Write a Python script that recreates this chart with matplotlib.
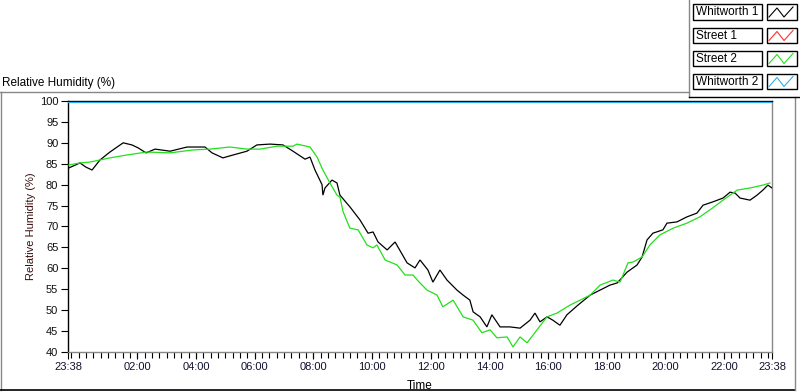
import matplotlib
matplotlib.use("Agg")
import matplotlib.pyplot as plt
from matplotlib.patches import Rectangle
from matplotlib.lines import Line2D

plt.rcParams['font.family'] = ['Liberation Sans', 'DejaVu Sans']

# ---- data (elapsed hours since 23:38, relative humidity %) ----
w1_hours = [0.03, 0.41, 0.61, 0.82, 1.09, 1.43, 1.88, 2.18, 2.39, 2.66, 2.97, 3.48, 4.06, 4.67,
            4.91, 5.28, 5.63, 6.10, 6.44, 6.89, 7.33, 7.67, 8.08, 8.25, 8.42, 8.66, 8.69, 8.76,
            9.00, 9.17, 9.27, 9.61, 9.95, 10.23, 10.40, 10.57, 10.88, 11.15, 11.56, 11.83, 12.00,
            12.27, 12.44, 12.68, 12.92, 13.26, 13.47, 13.70, 13.81, 14.05, 14.28, 14.45, 14.73,
            15.07, 15.41, 15.75, 15.92, 16.09, 16.33, 16.53, 16.77, 17.01, 17.35, 17.80, 18.14,
            18.48, 18.72, 19.06, 19.40, 19.57, 19.74, 19.94, 20.28, 20.42, 20.76, 21.10, 21.44,
            21.65, 21.99, 22.33, 22.57, 22.74, 22.91, 23.25, 23.49, 23.69, 23.86, 24.00]
w1_values = [84.0, 85.2, 84.2, 83.5, 85.9, 87.8, 90.0, 89.5, 88.8, 87.6, 88.5, 88.0, 89.0, 89.0,
             87.6, 86.4, 87.1, 88.0, 89.5, 89.7, 89.5, 88.0, 86.1, 86.6, 83.5, 80.0, 77.5, 79.2,
             81.1, 80.4, 77.5, 74.7, 71.6, 68.4, 68.7, 66.3, 64.4, 66.3, 61.3, 60.1, 62.0,
             59.6, 56.7, 59.6, 57.2, 54.8, 53.6, 52.4, 49.6, 48.4, 46.0, 48.9, 46.0,
             46.0, 45.7, 47.6, 49.3, 47.2, 48.4, 47.6, 46.4, 48.9, 51.0, 53.6, 54.8,
             56.0, 56.5, 59.1, 60.8, 62.7, 66.8, 68.4, 69.2, 70.8, 71.1, 72.3, 73.2,
             75.1, 75.9, 76.8, 78.2, 78.0, 76.8, 76.3, 77.5, 78.7, 79.9, 79.2]

s2_hours = [0.03, 0.41, 0.75, 1.43, 2.01, 2.69, 3.48, 4.26, 4.84, 5.52, 6.10, 6.55, 7.13, 7.67,
            7.81, 8.25, 8.49, 8.69, 8.93, 9.17, 9.27, 9.38, 9.61, 9.89, 10.19, 10.40, 10.53,
            10.81, 11.22, 11.49, 11.76, 12.00, 12.24, 12.58, 12.78, 13.13, 13.47, 13.81, 14.11,
            14.39, 14.62, 14.97, 15.17, 15.41, 15.65, 15.99, 16.33, 16.67, 17.11, 17.46, 17.80,
            18.14, 18.58, 18.82, 19.09, 19.26, 19.57, 19.84, 20.18, 20.63, 21.10, 21.54, 21.99,
            22.33, 22.81, 23.25, 23.69, 23.93]
s2_values = [84.7, 85.2, 85.4, 86.4, 87.1, 87.8, 87.6, 88.3, 88.5, 89.0, 88.5, 88.5, 89.2, 89.2,
             89.7, 89.0, 86.6, 83.5, 80.4, 77.5, 77.0, 73.5, 69.6, 69.2, 65.6, 64.9, 65.6,
             62.0, 60.8, 58.4, 58.4, 56.5, 54.8, 53.6, 50.8, 52.4, 48.4, 47.6, 44.6,
             45.3, 43.4, 43.6, 41.2, 43.6, 42.2, 45.3, 48.4, 49.3, 51.2, 52.4, 53.6,
             56.0, 57.2, 56.7, 61.3, 61.5, 62.7, 65.6, 68.0, 69.6, 70.8, 72.3, 74.5,
             76.3, 78.7, 79.2, 79.9, 80.4]

s1_hours = []
s1_values = []

w2_hours = [0.0, 24.0]
w2_values = [99.85, 99.85]

series_names = ["Whitworth 1", "Street 1", "Street 2", "Whitworth 2"]
series_colors = ["#000000", "#FF3030", "#22E01A", "#33AAEE"]

xtick_pos = [0.0, 2.367, 4.367, 6.367, 8.367, 10.367, 12.367, 14.367, 16.367, 18.367, 20.367, 22.367, 24.0]
xtick_labels = ["23:38", "02:00", "04:00", "06:00", "08:00", "10:00", "12:00", "14:00",
                "16:00", "18:00", "20:00", "22:00", "23:38"]
ytick_vals = list(range(40, 101, 5))

W, H = 800, 392
fig = plt.figure(figsize=(W / 100, H / 100), dpi=100)
fig.patch.set_facecolor("white")

# overlay for frame and legend (pixel coordinates)
ov = fig.add_axes([0, 0, 1, 1])
ov.set_xlim(0, W)
ov.set_ylim(H, 0)
ov.axis("off")

ax = fig.add_axes([68 / W, 1 - 352 / H, (772 - 68) / W, (352 - 101) / H])

data_x = [w1_hours, s1_hours, s2_hours, w2_hours]
data_y = [w1_values, s1_values, s2_values, w2_values]
for xs, ys, c in zip(data_x, data_y, series_colors):
    if xs:
        ax.plot(xs, ys, color=c, lw=0.9, solid_joinstyle="miter", zorder=3)

ax.set_xlim(0, 24)
ax.set_ylim(40, 100)
ax.set_yticks(ytick_vals)
ax.set_yticklabels([str(v) for v in ytick_vals])
ax.set_xticks(xtick_pos)
ax.set_xticklabels(xtick_labels)
minor = [0.1167 + 0.25 * i for i in range(96) if 0.1167 + 0.25 * i < 24]
ax.set_xticks(minor, minor=True)
ax.tick_params(axis="both", which="major", labelsize=8, length=5, width=0.8,
               colors="black", pad=2)
ax.tick_params(axis="x", which="minor", length=4, width=0.8, colors="black")
ax.tick_params(axis="x", which="major", labelcolor="#101030")
ax.tick_params(axis="y", which="major", labelcolor="#101010")

ax.spines["left"].set_color("black")
ax.spines["top"].set_color("black")
ax.spines["right"].set_color("#888888")
ax.spines["bottom"].set_color("#888888")
for s in ax.spines.values():
    s.set_linewidth(1.0)
    s.set_zorder(2)

ax.set_ylabel("Relative Humidity (%)", fontsize=8, color="#3a1010", labelpad=3)
ax.set_xlabel("Time", fontsize=8.5, color="black", labelpad=6)

# title
fig.text(2 / W, 1 - 86 / H, "Relative Humidity (%)", fontsize=8.5, color="black",
         ha="left", va="baseline")

# outer frame lines
ov.add_line(Line2D([0, 689], [92, 92], color="#888888", lw=1))
ov.add_line(Line2D([1, 1], [92, 390], color="#888888", lw=1))
ov.add_line(Line2D([0, 795], [390, 390], color="black", lw=1.2))
ov.add_line(Line2D([795, 795], [97, 390], color="#888888", lw=1))
ov.add_line(Line2D([689, 689], [0, 97], color="#888888", lw=1))
ov.add_line(Line2D([689, 800], [97, 97], color="black", lw=1))

# legend
row_tops = [4, 27.5, 50.5, 73.5]
for top, name, c in zip(row_tops, series_names, series_colors):
    ov.add_patch(Rectangle((693, top), 69, 15.5, facecolor="white", edgecolor="black", lw=1))
    ov.text(696, top + 8, name, fontsize=8.5, color="black", ha="left", va="center")
    ov.add_patch(Rectangle((767, top), 30, 15.5, facecolor="white", edgecolor="black", lw=1))
    ov.add_line(Line2D([769, 777, 784, 793], [top + 13, top + 4, top + 13, top + 3],
                       color=c, lw=0.8))

fig.savefig("out.png", dpi=100)
